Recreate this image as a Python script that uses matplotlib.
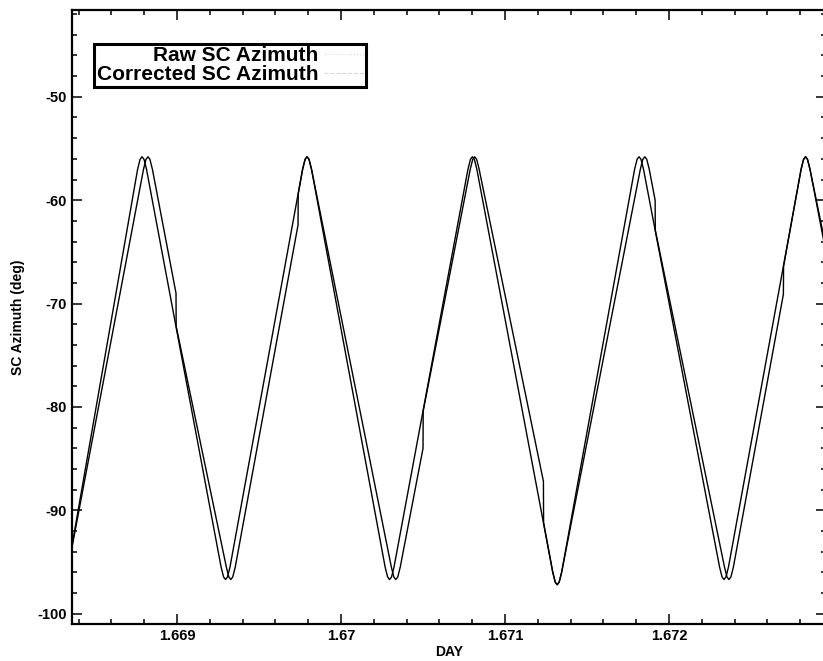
import matplotlib
matplotlib.use("Agg")
import matplotlib.pyplot as plt
from matplotlib.ticker import FixedLocator, MultipleLocator, FuncFormatter
from matplotlib.lines import Line2D

plt.rcParams['font.family'] = ['Liberation Sans', 'DejaVu Sans']
plt.rcParams['font.weight'] = 'bold'
plt.rcParams['axes.unicode_minus'] = False

# corrected azimuth: smooth scan, rounded turn-arounds
corr_day = [1.668283, 1.668298, 1.668310, 1.668322, 1.668337,
            1.668760, 1.668775, 1.668787, 1.668799, 1.668814,
            1.669269, 1.669284, 1.669296, 1.669308, 1.669323,
            1.669766, 1.669781, 1.669793, 1.669805, 1.669820,
            1.670269, 1.670284, 1.670296, 1.670308, 1.670323,
            1.670774, 1.670789, 1.670801, 1.670813, 1.670828,
            1.671291, 1.671306, 1.671318, 1.671330, 1.671345,
            1.671790, 1.671805, 1.671817, 1.671829, 1.671844,
            1.672308, 1.672323, 1.672335, 1.672347, 1.672362,
            1.672805, 1.672820, 1.672832, 1.672844, 1.672859,
            1.673340]
corr_az = [-95.5, -96.45, -96.7, -96.45, -95.5,
           -57.0, -56.05, -55.8, -56.05, -57.0,
           -95.5, -96.45, -96.7, -96.45, -95.5,
           -57.0, -56.05, -55.8, -56.05, -57.0,
           -95.5, -96.45, -96.7, -96.45, -95.5,
           -57.0, -56.05, -55.8, -56.05, -57.0,
           -96.0, -96.95, -97.2, -96.95, -96.0,
           -57.0, -56.05, -55.8, -56.05, -57.0,
           -95.5, -96.45, -96.7, -96.45, -95.5,
           -57.0, -56.05, -55.8, -56.05, -57.0,
           -96.7]

# raw azimuth: lags the corrected one and jumps back onto it now and then
raw_day = [1.668283, 1.668298, 1.668310, 1.668322, 1.668337,
           1.668796, 1.668811, 1.668823, 1.668835, 1.668850,
           1.668994, 1.668995,
           1.669301, 1.669316, 1.669328, 1.669340, 1.669355,
           1.669738, 1.669739,
           1.669766, 1.669781, 1.669793, 1.669805, 1.669820,
           1.670307, 1.670322, 1.670334, 1.670346, 1.670361,
           1.670500, 1.670501,
           1.670788, 1.670803, 1.670815, 1.670827, 1.670842,
           1.671234, 1.671235,
           1.671291, 1.671306, 1.671318, 1.671330, 1.671345,
           1.671825, 1.671840, 1.671852, 1.671864, 1.671879,
           1.671915, 1.671916,
           1.672338, 1.672353, 1.672365, 1.672377, 1.672392,
           1.672697, 1.672698,
           1.672805, 1.672820, 1.672832, 1.672844, 1.672859,
           1.673370]
raw_az = [-95.5, -96.45, -96.7, -96.45, -95.5,
          -57.0, -56.05, -55.8, -56.05, -57.0,
          -69.0, -72.2,
          -95.5, -96.45, -96.7, -96.45, -95.5,
          -62.4, -59.4,
          -57.0, -56.05, -55.8, -56.05, -57.0,
          -95.5, -96.45, -96.7, -96.45, -95.5,
          -84.0, -80.4,
          -57.0, -56.05, -55.8, -56.05, -57.0,
          -87.2, -91.2,
          -96.0, -96.95, -97.2, -96.95, -96.0,
          -57.0, -56.05, -55.8, -56.05, -57.0,
          -60.0, -62.9,
          -95.5, -96.45, -96.7, -96.45, -95.5,
          -69.1, -66.4,
          -57.0, -56.05, -55.8, -56.05, -57.0,
          -96.7]

day_ticks = [1.669, 1.670, 1.671, 1.672]
day_labels = ['1.669', '1.67', '1.671', '1.672']
az_ticks = [-100, -90, -80, -70, -60, -50]

fig = plt.figure(figsize=(8.23, 6.61), dpi=100)
# right spine sits just past the edge of the image
ax = fig.add_axes([0.0871, 0.056, 0.9166, 0.9289])

ax.plot(raw_day, raw_az, color='black', lw=1.0)
ax.plot(corr_day, corr_az, color='black', lw=1.0)

ax.set_xlim(1.668358, 1.672957)
ax.set_ylim(-101, -41.6)

ax.xaxis.set_major_locator(FixedLocator(day_ticks))
ax.xaxis.set_major_formatter(FuncFormatter(lambda v, p: day_labels[day_ticks.index(round(v, 3))]
                                           if round(v, 3) in day_ticks else ''))
ax.xaxis.set_minor_locator(MultipleLocator(0.0002))
ax.yaxis.set_major_locator(FixedLocator(az_ticks))
ax.yaxis.set_minor_locator(MultipleLocator(2))

ax.tick_params(which='both', direction='in', top=True, right=True, width=1.1,
               labelsize=10.5)
ax.tick_params(which='major', length=7.5)
ax.tick_params(which='minor', length=3.8)
for lab in ax.get_xticklabels() + ax.get_yticklabels():
    lab.set_fontweight('bold')
for s in ax.spines.values():
    s.set_linewidth(1.6)

ax.set_xlabel('DAY', fontsize=10, fontweight='bold')
ax.set_ylabel('SC Azimuth (deg)', fontsize=10, fontweight='bold')
ax.xaxis.set_label_coords(0.5, -0.034)
ax.yaxis.set_label_coords(-0.062, 0.5)

handles = [Line2D([], [], color='#d8d8d8', lw=0.8, ls=':'),
           Line2D([], [], color='#d8d8d8', lw=0.8, ls='--')]
leg = ax.legend(handles, ['Raw SC Azimuth', 'Corrected SC Azimuth'],
                loc='upper left', bbox_to_anchor=(0.0297, 0.9454), borderaxespad=0,
                markerfirst=False, fancybox=False, framealpha=1, edgecolor='black',
                prop={'weight': 'bold', 'size': 15}, handlelength=1.9,
                handletextpad=0.3, borderpad=0.12, labelspacing=0.0)
leg.get_frame().set_linewidth(2.2)

fig.savefig('out.png', dpi=100)
